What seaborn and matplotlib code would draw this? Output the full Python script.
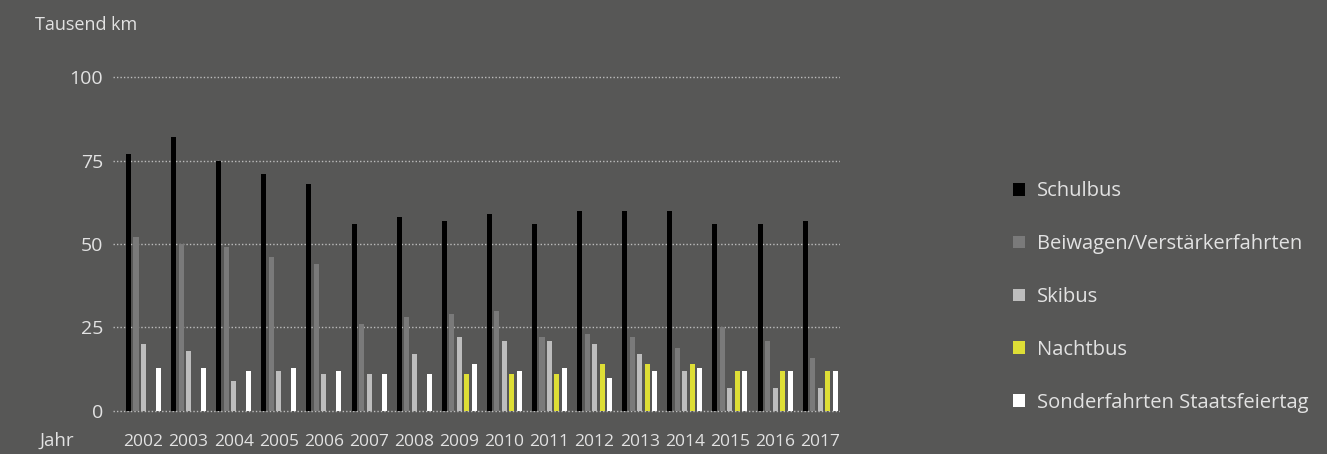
import matplotlib
matplotlib.use("Agg")
import matplotlib.pyplot as plt
import seaborn as sns
import pandas as pd

years = [str(y) for y in range(2002, 2018)]
series_names = ["Schulbus", "Beiwagen/Verstärkerfahrten", "Skibus", "Nachtbus",
                "Sonderfahrten Staatsfeiertag"]
schulbus = [77, 82, 75, 71, 68, 56, 58, 57, 59, 56, 60, 60, 60, 56, 56, 57]
beiwagen = [52, 50, 49, 46, 44, 26, 28, 29, 30, 22, 23, 22, 19, 25, 21, 16]
skibus = [20, 18, 9, 12, 11, 11, 17, 22, 21, 21, 20, 17, 12, 7, 7, 7]
nachtbus = [0, 0, 0, 0, 0, 0, 0, 11, 11, 11, 14, 14, 14, 12, 12, 12]
sonder = [13, 13, 12, 13, 12, 11, 11, 14, 12, 13, 10, 12, 13, 12, 12, 12]
y_ticks = [0, 25, 50, 75, 100]

colors = ["#000000", "#7a7a7a", "#bdbdbd", "#dede36", "#ffffff"]
bg = "#575756"
txt = "#e2e2e2"

rows = []
for name, vals in zip(series_names, [schulbus, beiwagen, skibus, nachtbus, sonder]):
    for y, v in zip(years, vals):
        rows.append({"Jahr": y, "Serie": name, "Wert": v})
df = pd.DataFrame(rows)

sns.set_style("white")
plt.rcParams["font.family"] = ["Open Sans", "DejaVu Sans"]

fig = plt.figure(figsize=(13.27, 4.54), dpi=100, facecolor=bg)
ax = fig.add_axes([113 / 1327, 1 - 414.3 / 454, 727 / 1327, (414.3 - 73.7) / 454])
ax.set_facecolor(bg)

sns.barplot(data=df, x="Jahr", y="Wert", hue="Serie", hue_order=series_names,
            palette=colors, width=0.83, gap=0.33, saturation=1, ax=ax,
            legend=True, linewidth=0)

ax.set_ylim(-1, 101)
ax.set_xlim(-0.676, 15.44)
ax.set_yticks(y_ticks)
ax.yaxis.grid(True, linestyle=(0, (1, 1.5)), color="#bcbcbc", linewidth=1)
ax.set_axisbelow(True)
for s in ax.spines.values():
    s.set_visible(False)
ax.tick_params(axis="both", length=0, colors=txt)
ax.tick_params(axis="y", pad=7, labelsize=14)
ax.tick_params(axis="x", pad=14, labelsize=12.5)
ax.set_xlabel("")
ax.set_ylabel("")

fig.text(35 / 1327, 1 - 25 / 454, "Tausend km", color=txt, fontsize=13,
         va="center", ha="left")
fig.text(40 / 1327, 1 - 441 / 454, "Jahr", color=txt, fontsize=13.5,
         va="center", ha="left")

handles, labels = ax.get_legend_handles_labels()
ax.legend_.remove()
leg = fig.legend(handles, labels, loc="center left",
                 bbox_to_anchor=(995 / 1327, 1 - 297 / 454), frameon=False,
                 handlelength=0.6, handleheight=0.6, handletextpad=0.6,
                 labelspacing=1.63, fontsize=14.5, labelcolor=txt)

fig.savefig("out.png", dpi=100, facecolor=bg)
